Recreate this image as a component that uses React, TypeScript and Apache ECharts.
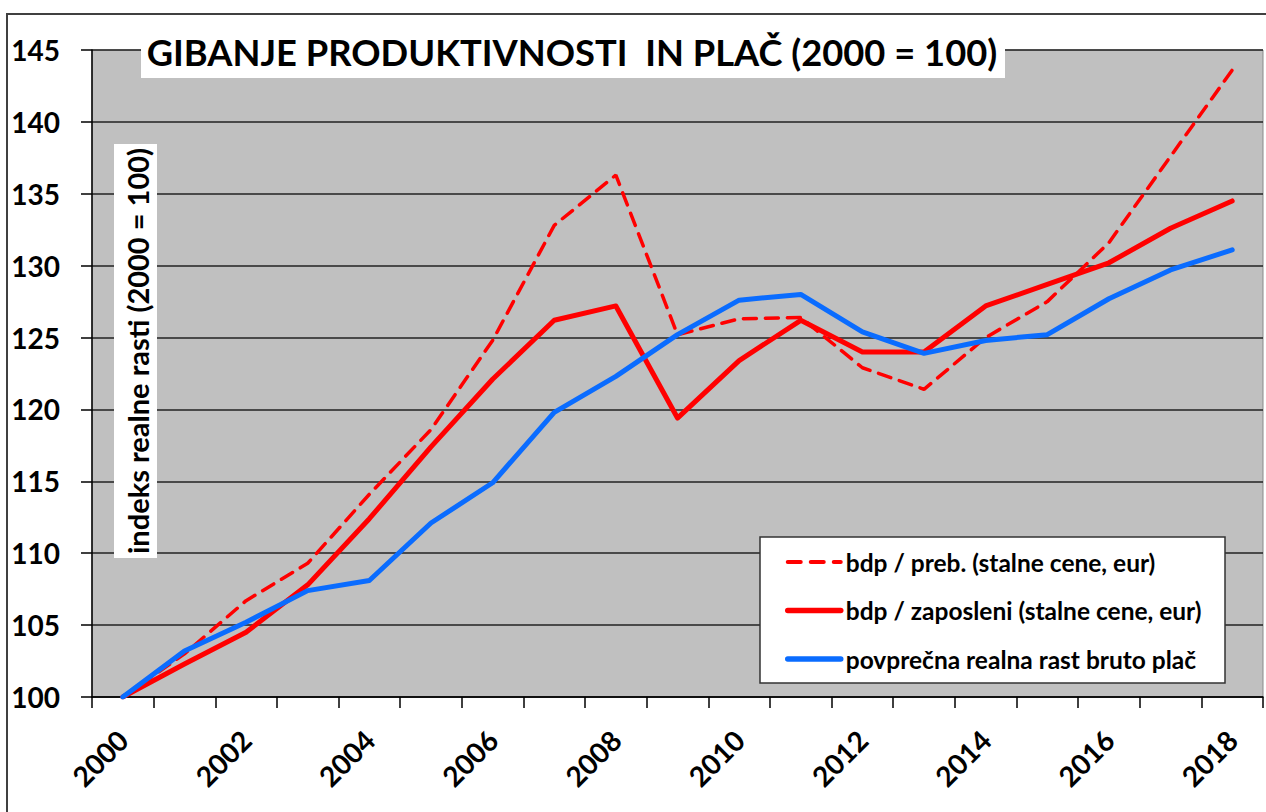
import React, { useEffect, useRef } from "react";
import * as echarts from "echarts";

const years = ["2000", "2001", "2002", "2003", "2004", "2005", "2006", "2007", "2008", "2009", "2010", "2011", "2012", "2013", "2014", "2015", "2016", "2017", "2018"];
const bdpPreb = [100, 103.0, 106.7, 109.3, 114.1, 118.6, 124.8, 132.8, 136.3, 125.2, 126.3, 126.4, 122.9, 121.4, 125.0, 127.5, 131.6, 137.6, 143.6];
const bdpZaposleni = [100, 102.3, 104.5, 107.8, 112.4, 117.4, 122.1, 126.2, 127.2, 119.4, 123.4, 126.2, 124.0, 124.0, 127.2, 128.7, 130.2, 132.6, 134.5];
const placa = [100, 103.2, 105.2, 107.4, 108.1, 112.1, 114.9, 119.8, 122.3, 125.2, 127.6, 128.0, 125.4, 123.9, 124.8, 125.2, 127.7, 129.7, 131.1];
const seriesNames = ["bdp / preb. (stalne cene, eur)", "bdp / zaposleni (stalne cene, eur)", "povprečna realna rast bruto plač"];
const yMin = 100;
const yMax = 145;
const yStep = 5;
const titleText = "GIBANJE PRODUKTIVNOSTI  IN PLAČ (2000 = 100)";
const yAxisTitle = "indeks realne rasti (2000 = 100)";

const FONT = "Lato";
const RED = "#ff0000";
const BLUE = "#0a6cff";

export default function App() {
  const ref = useRef<HTMLDivElement>(null);
  useEffect(() => {
    document.body.style.margin = "0";
    const chart = echarts.init(ref.current!, null, { renderer: "svg" });
    chart.setOption({
      animation: false,
      backgroundColor: "#ffffff",
      textStyle: { fontFamily: FONT },
      grid: {
        left: 92,
        right: 3,
        top: 50,
        bottom: 115,
        show: true,
        backgroundColor: "#c0c0c0",
        borderColor: "#8a8a8a",
        borderWidth: 1,
      },
      xAxis: {
        type: "category",
        data: years,
        boundaryGap: true,
        axisLine: { show: true, lineStyle: { color: "#000", width: 1.5 } },
        axisTick: { show: true, interval: 0, length: 11, lineStyle: { color: "#000", width: 1.5 } },
        axisLabel: {
          interval: 1,
          rotate: 45,
          margin: 38,
          fontSize: 28,
          fontWeight: "bold",
          color: "#000",
          fontFamily: FONT,
        },
        splitLine: { show: false },
      },
      yAxis: {
        type: "value",
        min: yMin,
        max: yMax,
        interval: yStep,
        axisLine: { show: true, lineStyle: { color: "#000", width: 1.5 } },
        axisTick: { show: true, length: 11, lineStyle: { color: "#000", width: 1.5 } },
        axisLabel: {
          margin: 32,
          fontSize: 28,
          fontWeight: "bold",
          color: "#000",
          fontFamily: FONT,
        },
        splitLine: { show: true, lineStyle: { color: "#222", width: 1.5 } },
      },
      legend: {
        orient: "vertical",
        left: 785,
        top: 549,
        padding: 0,
        itemWidth: 53,
        itemHeight: 14,
        itemGap: 22.5,
        z: 20,
        itemStyle: { opacity: 0 },
        data: [
          { name: seriesNames[0], lineStyle: { width: 4, type: [13, 10], color: RED } },
          { name: seriesNames[1], lineStyle: { width: 5.5, color: RED } },
          { name: seriesNames[2], lineStyle: { width: 5.5, color: BLUE } },
        ],
        textStyle: { fontSize: 24.5, fontWeight: "bold", color: "#000", fontFamily: FONT, lineHeight: 26 },
      },
      graphic: [
        {
          type: "rect",
          silent: true,
          z: -10,
          shape: { x: 7, y: 14, width: 1300, height: 900 },
          style: { fill: "none", stroke: "#404040", lineWidth: 2 },
        },
        {
          type: "rect",
          silent: true,
          z: 10,
          shape: { x: 141, y: 40, width: 864, height: 38 },
          style: { fill: "#ffffff" },
        },
        {
          type: "text",
          silent: true,
          z: 11,
          x: 572,
          y: 52,
          style: {
            text: titleText,
            fill: "#000",
            fontSize: 36.3,
            fontWeight: "bold",
            fontFamily: FONT,
            textAlign: "center",
            textVerticalAlign: "middle",
          },
        },
        {
          type: "rect",
          silent: true,
          z: 10,
          shape: { x: 114, y: 144, width: 43, height: 414 },
          style: { fill: "#ffffff" },
        },
        {
          type: "text",
          silent: true,
          z: 11,
          x: 137,
          y: 351,
          rotation: Math.PI / 2,
          style: {
            text: yAxisTitle,
            fill: "#000",
            fontSize: 29,
            fontWeight: "bold",
            fontFamily: FONT,
            textAlign: "center",
            textVerticalAlign: "middle",
          },
        },
        {
          type: "rect",
          silent: true,
          z: 10,
          shape: { x: 760, y: 537, width: 465, height: 146 },
          style: { fill: "#ffffff", stroke: "#333", lineWidth: 1.5 },
        },
      ],
      series: [
        {
          name: seriesNames[0],
          type: "line",
          data: bdpPreb,
          symbol: "none",
          lineStyle: { color: RED, width: 3.5, type: [13, 9], cap: "round" },
          itemStyle: { color: RED },
          z: 3,
        },
        {
          name: seriesNames[1],
          type: "line",
          data: bdpZaposleni,
          symbol: "none",
          lineStyle: { color: RED, width: 5, cap: "round", join: "round" },
          itemStyle: { color: RED },
          z: 4,
        },
        {
          name: seriesNames[2],
          type: "line",
          data: placa,
          symbol: "none",
          lineStyle: { color: BLUE, width: 5, cap: "round", join: "round" },
          itemStyle: { color: BLUE },
          z: 5,
        },
      ],
    });
    return () => chart.dispose();
  }, []);
  return <div ref={ref} style={{ width: 1266, height: 812 }} />;
}
